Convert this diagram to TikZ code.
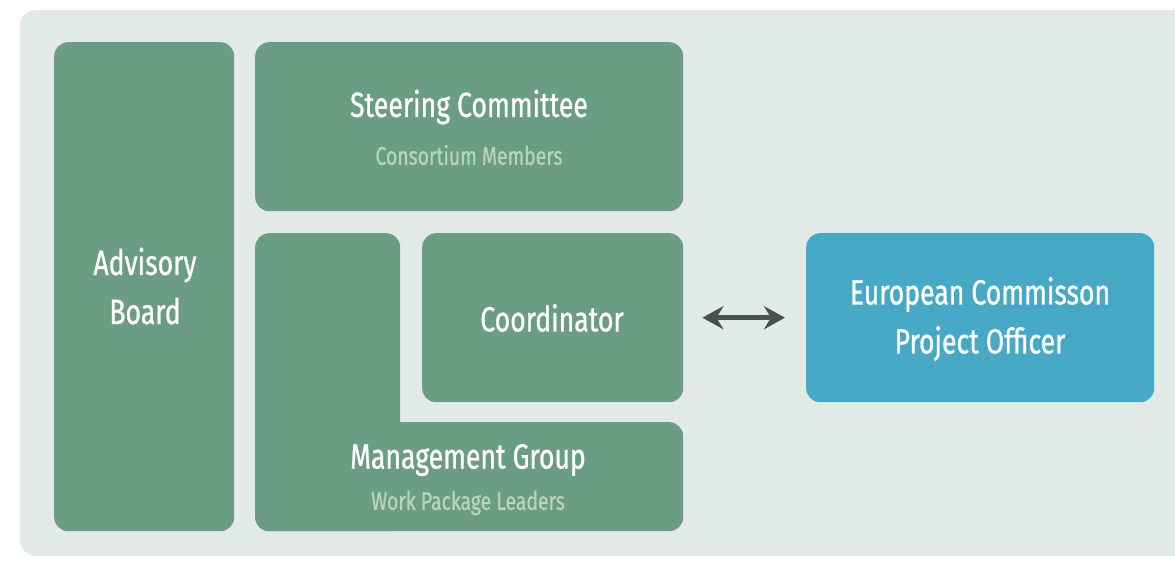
\documentclass[tikz,border=0pt]{standalone}
\usepackage{fontspec}
\setmainfont{Fira Sans}[FakeStretch=0.76, FakeBold=0.8]
\usetikzlibrary{arrows.meta}
\definecolor{panel}{HTML}{E1EAE7}
\definecolor{sage}{HTML}{6B9D84}
\definecolor{sky}{HTML}{46AAC7}
\definecolor{mint}{HTML}{B6D3C3}
\definecolor{slate}{HTML}{4B5050}
\tikzset{
  box/.style={rectangle, rounded corners=14pt, inner sep=0pt, anchor=north west, draw=none},
  greenbox/.style={box, fill=sage},
  bluebox/.style={box, fill=sky},
  title/.style={text=white, font=\fontsize{35}{49}\selectfont, align=center, inner sep=0pt},
  subtitle/.style={text=mint, font=\fontsize{25.5}{30}\selectfont, align=center, inner sep=0pt},
  link/.style={{Stealth[length=21pt,width=23pt,inset=7pt]}-{Stealth[length=21pt,width=23pt,inset=7pt]}, line width=4.5pt, draw=slate}
}
\begin{document}
\begin{tikzpicture}[x=1pt,y=-1pt]
  \useasboundingbox (0,0) rectangle (1175,560);
  % background panel
  \begin{scope}
    \clip (0,0) rectangle (1175,560);
    \fill[panel, rounded corners=16pt] (20,10) rectangle (1200,556);
  \end{scope}
  % boxes
  \node[greenbox, minimum width=180pt, minimum height=489pt] (adv) at (54,42) {};
  \node[greenbox, minimum width=428pt, minimum height=169pt] (steer) at (255,42) {};
  \node[greenbox, minimum width=145pt, minimum height=298pt] (mgA) at (255,233) {};
  \node[greenbox, minimum width=428pt, minimum height=109pt] (mgB) at (255,422) {};
  \node[greenbox, minimum width=261pt, minimum height=169pt] (coord) at (422,233) {};
  \node[bluebox, minimum width=348pt, minimum height=169pt] (ec) at (806,233) {};
  % labels
  \node[title] (advT) at (145,286) {Advisory\\Board};
  \node[title] (steerT) at (469,107) {Steering Committee};
  \node[subtitle] (steerS) at (469,155) {Consortium Members};
  \node[title] (coordT) at (552,318) {Coordinator};
  \node[title] (mgT) at (468,460) {Management Group};
  \node[subtitle] (mgS) at (468,503) {Work Package Leaders};
  \node[title] (ecT) at (980,319) {European Commisson\\Project Officer};
  % link between coordinator and commission
  \draw[link, shorten <=19pt, shorten >=21pt] (coord.east) -- (ec.west);
\end{tikzpicture}
\end{document}
